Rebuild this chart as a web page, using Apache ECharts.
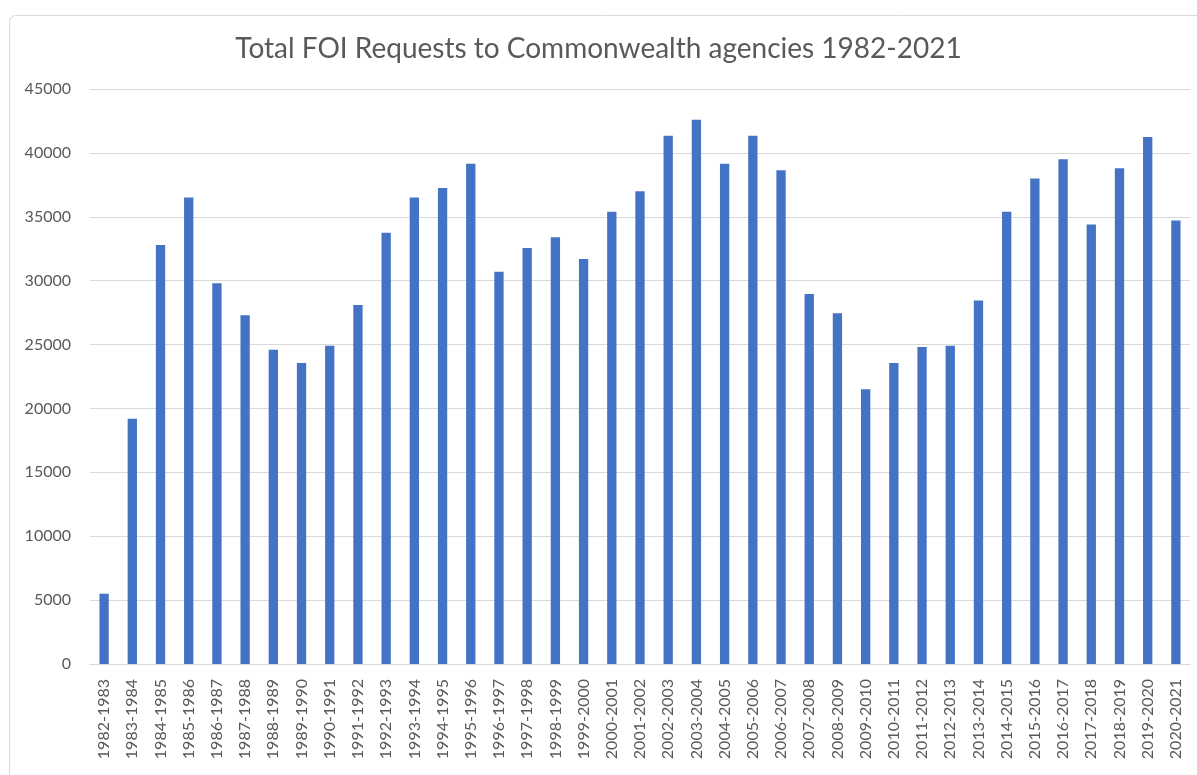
<!DOCTYPE html>
<html>
<head>
<meta charset="utf-8">
<script src="https://cdn.jsdelivr.net/npm/echarts@6/dist/echarts.min.js"></script>
<style>
html,body{margin:0;padding:0;background:#fff;}
#c{width:1197px;height:775px;}
</style>
</head>
<body>
<div id="c"></div>
<script>
const categories = ["1982-1983","1983-1984","1984-1985","1985-1986","1986-1987","1987-1988","1988-1989","1989-1990","1990-1991","1991-1992","1992-1993","1993-1994","1994-1995","1995-1996","1996-1997","1997-1998","1998-1999","1999-2000","2000-2001","2001-2002","2002-2003","2003-2004","2004-2005","2005-2006","2006-2007","2007-2008","2008-2009","2009-2010","2010-2011","2011-2012","2012-2013","2013-2014","2014-2015","2015-2016","2016-2017","2017-2018","2018-2019","2019-2020","2020-2021"];
const requests = [5500,19200,32800,36500,29800,27300,24600,23550,24900,28100,33750,36500,37250,39150,30700,32550,33400,31700,35400,37000,41350,42600,39150,41350,38650,28950,27450,21500,23550,24800,24900,28450,35400,38000,39500,34400,38800,41250,34700];
const yTicks = {min:0, max:45000, interval:5000};
const titleText = "Total FOI Requests to Commonwealth agencies 1982-2021";

const chart = echarts.init(document.getElementById('c'), null, {renderer:'canvas'});
const font = "Lato, 'Open Sans', sans-serif";
chart.setOption({
  animation:false,
  backgroundColor:'#fff',
  graphic:[{
    type:'rect', shape:{x:9.5,y:15.5,width:1200,height:800,r:6},
    style:{fill:'none',stroke:'#d9d9d9',lineWidth:1}, silent:true
  }],
  title:{
    text:titleText, left:'center', top:30,
    textStyle:{fontFamily:font, fontSize:28, fontWeight:'normal', color:'#595959'}
  },
  grid:{left:90, right:7, top:89, bottom:111, containLabel:false},
  xAxis:{
    type:'category', data:categories,
    axisLine:{lineStyle:{color:'#d9d9d9', width:1}},
    axisTick:{show:false},
    axisLabel:{rotate:90, interval:0, margin:15, fontFamily:font, fontSize:16, color:'#595959'}
  },
  yAxis:{
    type:'value', min:yTicks.min, max:yTicks.max, interval:yTicks.interval,
    axisLine:{show:false}, axisTick:{show:false},
    splitLine:{lineStyle:{color:'#d9d9d9', width:1}},
    axisLabel:{margin:19, fontFamily:font, fontSize:16, color:'#595959', formatter:v=>String(v)}
  },
  series:[{
    type:'bar', data:requests, barWidth:'33%',
    itemStyle:{color:'#4472c4'}
  }]
});
</script>
</body>
</html>
